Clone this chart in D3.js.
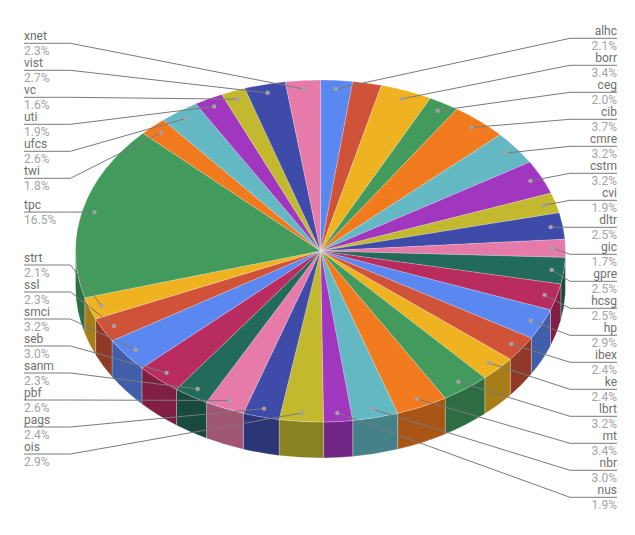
<!DOCTYPE html>
<html>
<head>
<meta charset="utf-8">
<script src="https://cdnjs.cloudflare.com/ajax/libs/d3/7.8.5/d3.min.js"></script>
<style>
  body { margin: 0; background: #fff; }
  text { font-family: Roboto, sans-serif; font-size: 12px; }
</style>
</head>
<body>
<script>
// slices run clockwise from 12 o'clock; the second one has no label in the chart
var names = ["alhc", "", "borr", "ceg", "cib", "cmre", "cstm", "cvi", "dltr", "gic", "gpre",
             "hcsg", "hp", "ibex", "ke", "lbrt", "mt", "nbr", "nus", "ois", "pags", "pbf",
             "sanm", "seb", "smci", "ssl", "strt", "tpc", "twi", "ufcs", "uti", "vc", "vist", "xnet"];
var values = [2.1, 1.9, 3.4, 2.0, 3.7, 3.2, 3.2, 1.9, 2.5, 1.7, 2.5,
              2.5, 2.9, 2.4, 2.4, 3.2, 3.4, 3.0, 1.9, 2.9, 2.4, 2.6,
              2.3, 3.0, 3.2, 2.3, 2.1, 16.5, 1.8, 2.6, 1.9, 1.6, 2.7, 2.3];
var palette = ["#5b87f0", "#cf5239", "#efb321", "#429b5d", "#f27a1e", "#63b8c4",
               "#a136bf", "#c2b92f", "#3f4ba8", "#e67ba9", "#226a5a", "#b82c60"];

var width = 635, height = 535;
var cx = 320.5, cy = 251, rx = 245, ry = 171, depth = 36;

var svg = d3.select("body").append("svg")
    .attr("width", width)
    .attr("height", height);

var color = d3.scaleOrdinal().domain(d3.range(names.length)).range(palette);

var slices = d3.pie().sort(null).value(function(d) { return d; })(values);
slices.forEach(function(d, i) {
  d.name = names[i];
  d.mid = (d.startAngle + d.endAngle) / 2;
});

// point on the flattened pie, r is a fraction of the radius
function px(a, r) { return cx + rx * r * Math.sin(a); }
function py(a, r) { return cy - ry * r * Math.cos(a); }

// side walls, only the front half of the rim is visible
function wallPath(d) {
  var a0 = Math.max(d.startAngle, Math.PI / 2),
      a1 = Math.min(d.endAngle, Math.PI * 1.5);
  if (a1 <= a0) return null;
  return "M" + px(a0, 1) + "," + py(a0, 1) +
    "A" + rx + "," + ry + " 0 0 1 " + px(a1, 1) + "," + py(a1, 1) +
    "L" + px(a1, 1) + "," + (py(a1, 1) + depth) +
    "A" + rx + "," + ry + " 0 0 0 " + px(a0, 1) + "," + (py(a0, 1) + depth) + "Z";
}

svg.append("g").selectAll("path")
    .data(slices.filter(function(d) { return wallPath(d); }))
    .enter().append("path")
    .attr("d", wallPath)
    .attr("fill", function(d) { return d3.color(color(d.index)).darker(1); })
    .attr("stroke", "rgba(255,255,255,0.35)")
    .attr("stroke-width", 0.7);

// top face: a normal d3 arc squashed vertically
var arc = d3.arc().innerRadius(0).outerRadius(rx);

svg.append("g")
    .attr("transform", "translate(" + cx + "," + cy + ") scale(1," + (ry / rx) + ")")
  .selectAll("path")
    .data(slices)
    .enter().append("path")
    .attr("d", arc)
    .attr("fill", function(d) { return color(d.index); })
    .attr("stroke", "rgba(255,255,255,0.35)")
    .attr("stroke-width", 0.6)
    .attr("vector-effect", "non-scaling-stroke");

// label rows
var labelled = slices.filter(function(d) { return d.name; });
var rightSide = labelled.filter(function(d) { return d.mid < Math.PI; });
var leftSide = labelled.filter(function(d) { return d.mid >= Math.PI; }).reverse();
var dotR = 0.95;

rightSide.forEach(function(d, i) {
  d.rowY = 38.3 + i * 27;
});
var tpcRow = leftSide.findIndex(function(d) { return d.name == "tpc"; });
leftSide.forEach(function(d, i) {
  if (i < tpcRow) d.rowY = 43.3 + i * 27;
  else if (i == tpcRow) d.rowY = py(d.mid, dotR);
  else d.rowY = 265 + (i - tpcRow - 1) * 27;
});

var xLeft = 24, xLeftElbow = 70.5, xRight = 617, xRightElbow = 570;

var labels = svg.append("g").selectAll("g")
    .data(labelled)
    .enter().append("g");

labels.append("polyline")
    .attr("fill", "none")
    .attr("stroke", "#7a7a7a")
    .attr("stroke-width", 1)
    .attr("points", function(d) {
      var right = d.mid < Math.PI;
      return [[right ? xRight : xLeft, d.rowY],
              [right ? xRightElbow : xLeftElbow, d.rowY],
              [px(d.mid, dotR), py(d.mid, dotR)]].join(" ");
    });

labels.append("circle")
    .attr("cx", function(d) { return px(d.mid, dotR); })
    .attr("cy", function(d) { return py(d.mid, dotR); })
    .attr("r", 2.2)
    .attr("fill", "#a3a3a3");

labels.append("text")
    .attr("x", function(d) { return d.mid < Math.PI ? xRight : xLeft; })
    .attr("y", function(d) { return d.rowY - 3.5; })
    .attr("text-anchor", function(d) { return d.mid < Math.PI ? "end" : "start"; })
    .attr("fill", "#707070")
    .text(function(d) { return d.name; });

labels.append("text")
    .attr("x", function(d) { return d.mid < Math.PI ? xRight : xLeft; })
    .attr("y", function(d) { return d.rowY + 12; })
    .attr("text-anchor", function(d) { return d.mid < Math.PI ? "end" : "start"; })
    .attr("fill", "#a3a3a3")
    .text(function(d) { return d3.format(".1f")(d.value) + "%"; });
</script>
</body>
</html>
